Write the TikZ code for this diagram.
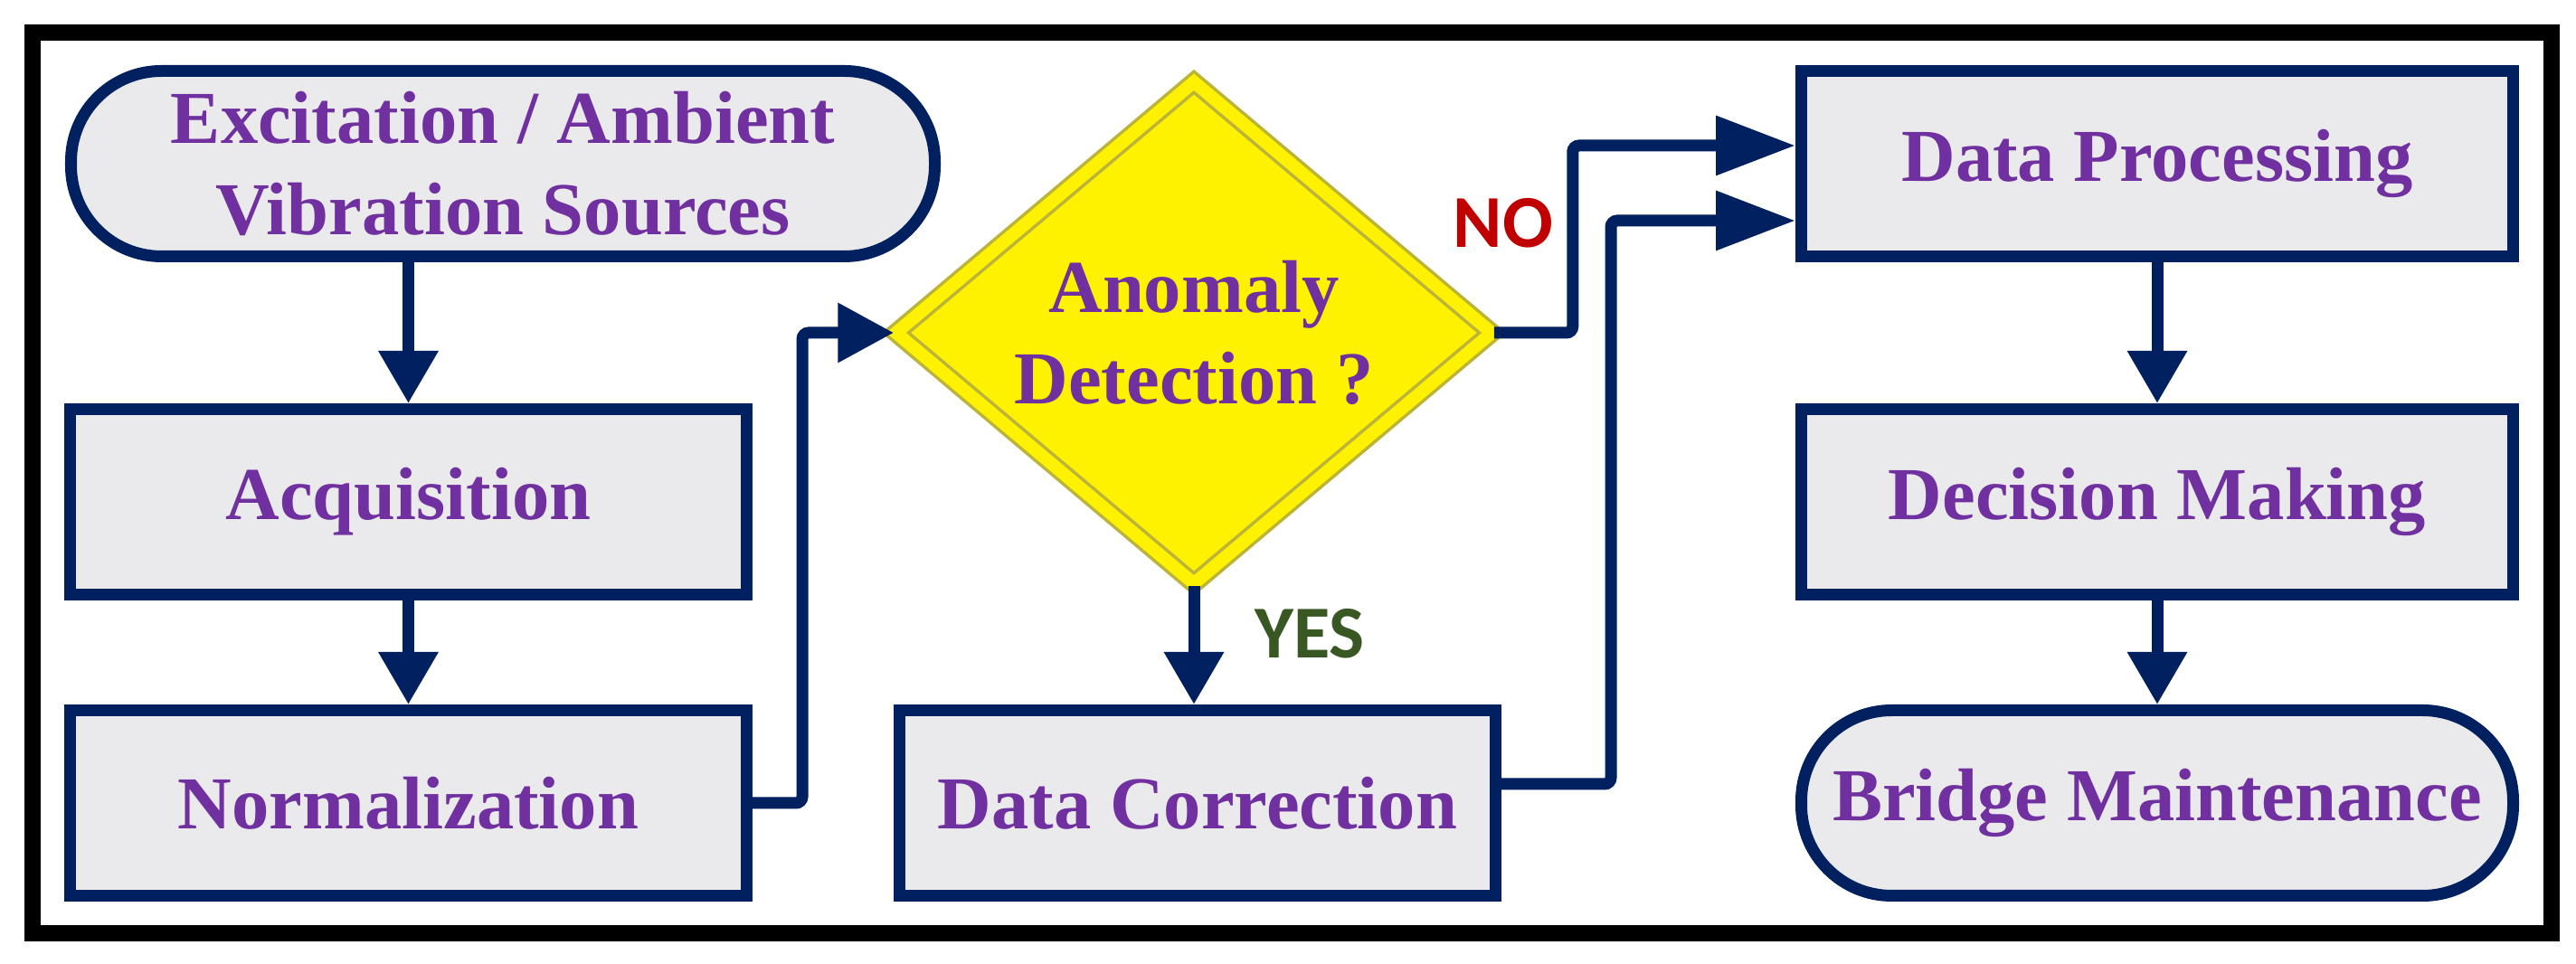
\documentclass[tikz,border=0pt]{standalone}
\usepackage{fontspec}
\setmainfont{Liberation Serif}
\newfontfamily\labelfont{Carlito}
\usetikzlibrary{arrows.meta,positioning,shapes.geometric}
\definecolor{navy}{RGB}{0,32,96}
\definecolor{boxgray}{RGB}{234,234,237}
\definecolor{txtpurple}{RGB}{112,48,160}
\definecolor{noRed}{RGB}{192,0,0}
\definecolor{yesGreen}{RGB}{56,87,35}

\begin{document}
\begin{tikzpicture}[
  box/.style={rectangle, draw=navy, fill=boxgray, line width=0.13cm, minimum height=2.05cm, inner sep=0pt, font=\fontsize{23.5pt}{28.7pt}\selectfont\bfseries, text=txtpurple, align=center},
  term/.style={box, rounded corners=1cm},
  decision/.style={diamond, fill=yellow, draw=yellow!70!black, line width=1pt, double=yellow, double distance=4pt, minimum width=6.6cm, minimum height=5.05cm, inner sep=0pt, font=\fontsize{23.5pt}{28.7pt}\selectfont\bfseries, text=txtpurple, align=center},
  flow/.style={draw=navy, line width=0.13cm, rounded corners=2pt, -{Triangle[length=0.58cm,width=0.63cm]}},
  flowlong/.style={flow, -{Triangle[length=0.88cm,width=0.63cm]}},
  lbl/.style={font=\labelfont\fontsize{23.5pt}{28pt}\selectfont\bfseries, inner sep=0pt}
]
% Frame
\useasboundingbox (0,0) rectangle (28.48,10.66);
\draw[line width=0.18cm] (0.36,0.34) rectangle (28.21,10.30);

% Left column
\node[term, minimum width=9.55cm] (src) at (5.56,8.85) {Excitation / Ambient\\Vibration Sources};
\node[box, minimum width=7.48cm] (acq) at (4.515,5.11) {Acquisition};
\node[box, minimum width=7.48cm] (norm) at (4.515,1.78) {Normalization};

% Middle column
\node[decision] (anom) at (13.20,6.98) {Anomaly\\Detection ?};
\node[box, minimum width=6.59cm] (corr) at (13.24,1.78) {Data Correction};

% Right column
\node[box, minimum width=7.87cm] (proc) at (23.85,8.85) {Data Processing};
\node[box, minimum width=7.87cm] (dec) at (23.85,5.11) {Decision Making};
\node[term, minimum width=7.87cm] (maint) at (23.85,1.78) {Bridge Maintenance};

% Connectors
\draw[flow] (acq.north |- src.south) -- (acq.north);
\foreach \a/\b in {acq/norm, proc/dec, dec/maint}
  \draw[flow] (\a) -- (\b);
\draw[flow, -{Triangle[length=0.62cm,width=0.63cm]}] (norm.east) -- ++(0.55,0) |- (anom.west);
\draw[flow] (anom.south) -- (anom.south |- corr.north);
\draw[flowlong] (anom.east) -- ++(0.87,0) |- ([yshift=0.2cm]proc.west);
\draw[flowlong] ([yshift=0.21cm]corr.east) -- ++(1.21,0) |- ([yshift=-0.63cm]proc.west);

% Labels
\node[lbl, text=yesGreen] (yes) at (14.48,3.65) {YES};
\node[lbl, text=noRed] (no) at (16.62,8.19) {NO};
\end{tikzpicture}
\end{document}
